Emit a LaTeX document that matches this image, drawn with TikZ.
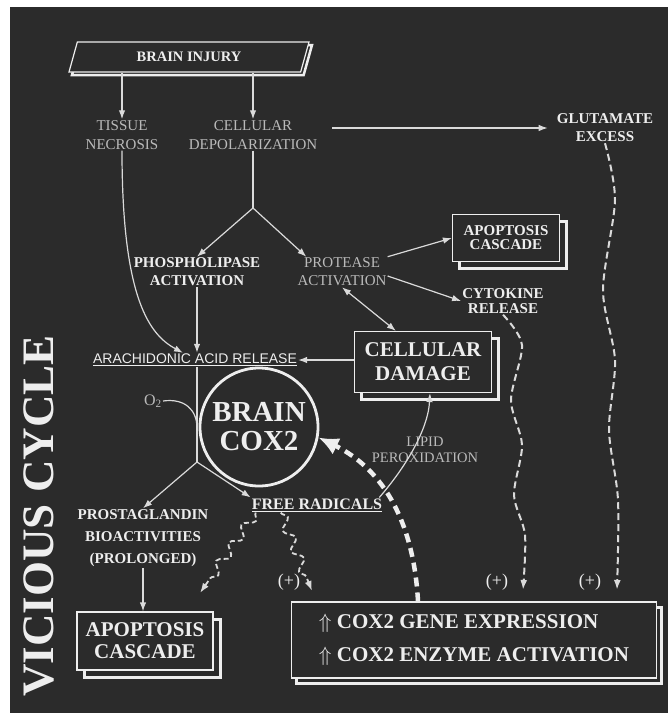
\documentclass[tikz,border=0pt]{standalone}
\usepackage{fontspec}
\setmainfont{Liberation Serif}
\newfontfamily\arialfam{Liberation Sans}
\usetikzlibrary{arrows.meta,shapes.geometric,shadows,decorations.pathmorphing}

\definecolor{bg}{HTML}{2B2B2B}
\definecolor{fg}{HTML}{EEEEEE}
\definecolor{dim}{HTML}{BABABA}
\definecolor{ln}{HTML}{DADADA}

\begin{document}
\begin{tikzpicture}[x=1pt, y=-1pt, >={Latex[length=9pt, width=6.5pt]},
    boldtag/.style={text=fg, font=\bfseries\fontsize{15}{18}\selectfont, align=center, inner sep=1pt},
    greytag/.style={text=dim, font=\fontsize{15}{19}\selectfont, align=center, inner sep=1pt},
    framed/.style={draw=fg, fill=bg, line width=1.2pt, text=fg, align=center, inner sep=0pt,
        general shadow={shadow xshift=#1, shadow yshift=-#1, draw=fg, fill=bg, line width=3pt}},
    framed/.default=7pt,
    link/.style={draw=ln, line width=1.2pt},
    wavy/.style={draw=ln, line width=2pt, dash pattern=on 7pt off 4pt, -{Latex[length=10pt, width=7pt]}},
    squiggle/.style={draw=ln, line width=1.8pt, dash pattern=on 5pt off 3pt, -{Latex[length=10pt, width=7pt]}, decorate,
        decoration={snake, amplitude=5pt, segment length=22pt, post length=9pt}},
    thickdash/.style={draw=fg, line width=4.5pt, dash pattern=on 9pt off 6pt, -{Latex[length=20pt, width=18pt]}}]

    \useasboundingbox (0, 0) rectangle (668, 713);
    \fill[white] (0, 0) rectangle (668, 713);
    \fill[bg] (10, 7) rectangle (668, 713);

    \node at (189, 57) (injury) [trapezium, trapezium left angle=63, trapezium right angle=117, trapezium stretches body,
        minimum width=240pt, minimum height=30pt, draw=fg, fill=bg, line width=1.2pt, text=fg,
        font=\bfseries\fontsize{14.5}{16}\selectfont,
        general shadow={shadow xshift=3pt, shadow yshift=-3pt, draw=fg, fill=bg, line width=2.5pt}] {BRAIN INJURY};
    \node at (122, 135) (tissue) [greytag] {TISSUE\\NECROSIS};
    \node at (253, 135) (depol) [greytag] {CELLULAR\\DEPOLARIZATION};
    \node at (605, 128) (glut) [boldtag] {GLUTAMATE\\EXCESS};
    \node at (197, 272) (phospho) [boldtag] {PHOSPHOLIPASE\\ACTIVATION};
    \node at (342, 272) (protease) [greytag, font=\fontsize{15}{18}\selectfont] {PROTEASE\\ACTIVATION};
    \node at (506, 238) (apopA) [framed, minimum width=107pt, minimum height=47pt, font=\bfseries\fontsize{15}{14}\selectfont] {APOPTOSIS\\CASCADE};
    \node at (503, 301) (cyto) [boldtag, font=\bfseries\fontsize{15}{15}\selectfont] {CYTOKINE\\RELEASE};
    \node at (195, 360) (arach) [text=fg, inner sep=1pt, font=\arialfam\fontsize{14}{16}\selectfont] {\underline{ARACHIDONIC ACID RELEASE}};
    \node at (423, 362) (damage) [framed, minimum width=137pt, minimum height=61pt, font=\bfseries\fontsize{21}{24}\selectfont] {CELLULAR\\DAMAGE};
    \node at (259, 427) (cox) [circle, draw=fg, line width=2.8pt, minimum size=118pt, text=fg, align=center, inner sep=0pt,
        font=\bfseries\fontsize{29}{29}\selectfont] {BRAIN\\COX2};
    \node at (153, 401) (o2) [greytag, font=\fontsize{16}{18}\selectfont] {O\textsubscript{2}};
    \node at (425, 450) (lipid) [greytag, font=\fontsize{14.5}{16}\selectfont] {LIPID\\PEROXIDATION};
    \node at (317, 505) (radicals) [boldtag, font=\bfseries\fontsize{16}{18}\selectfont] {\underline{FREE RADICALS}};
    \node at (143, 538) (prosta) [boldtag, font=\bfseries\fontsize{15}{22}\selectfont] {PROSTAGLANDIN\\BIOACTIVITIES\\(PROLONGED)};
    \node at (145, 641) (apopB) [framed, minimum width=136pt, minimum height=58pt, font=\bfseries\fontsize{21}{22}\selectfont] {APOPTOSIS\\CASCADE};
    \node at (474, 640) (gene) [framed=5pt, minimum width=365pt, minimum height=76pt, align=left,
        font=\bfseries\fontsize{21}{33}\selectfont] {$\Uparrow$\ COX2 GENE EXPRESSION\\$\Uparrow$\ COX2 ENZYME ACTIVATION};
    \node at (289, 582) (plusA) [greytag, text=fg, font=\fontsize{18}{18}\selectfont] {(+)};
    \node at (497, 582) (plusB) [greytag, text=fg, font=\fontsize{18}{18}\selectfont] {(+)};
    \node at (590, 582) (plusC) [greytag, text=fg, font=\fontsize{18}{18}\selectfont] {(+)};
    \node at (39, 516) (vicious) [rotate=90, text=fg, font=\bfseries\fontsize{45}{45}\selectfont] {VICIOUS CYCLE};

    \coordinate (fork) at (253, 208);
    \coordinate (yfork) at (197, 462);
    \coordinate (o2in) at (197, 428);
    \coordinate (cytoin) at (523, 590);
    \coordinate (glutin) at (617, 590);
    \coordinate (apopin) at (200, 593);
    \coordinate (genein) at (312, 591);

    \path[link, ->] (injury.south -| tissue) -- (tissue);
    \path[link, ->] (injury.south -| depol) -- (depol);
    \path[link, ->, shorten <=14pt, shorten >=8pt] (depol.east |- glut) -- (glut.west);
    \path[link] (depol) -- (fork);
    \path[link, ->] (fork) -- (phospho.north);
    \path[link, ->] (fork) -- ([xshift=10pt]protease.north west);
    \path[link, ->] (tissue) .. controls (122, 300) and (150, 335) .. ([xshift=-12pt]arach.north);
    \path[link, ->] (phospho) -- (phospho |- arach.north);
    \path[link, ->] (protease.north east) -- (apopA.west);
    \path[link, ->] ([yshift=-4pt]protease.east) -- (cyto.west);
    \path[link, <->] (protease.south) -- ([xshift=42pt]damage.north west);
    \path[link, ->] (damage.west |- arach) -- (arach);
    \path[link, ->] ([xshift=-4pt]radicals.north east) .. controls (405, 468) and (428, 430) .. ([xshift=7pt]damage.south);

    \path[link] (arach.south -| yfork) -- (yfork);
    \path[link] (o2.east) .. controls (185, 398) and (197, 410) .. (o2in);
    \path[link, ->] (yfork) -- (prosta.north);
    \path[link, ->] (yfork) -- (radicals.north west);
    \path[link, ->] (prosta) -- (prosta |- apopB.north);

    \path[wavy] plot[smooth] coordinates {(cyto.south) (522, 345) (511, 400) (522, 445) (514, 495) (525, 535) (cytoin)};
    \path[wavy] plot[smooth] coordinates {(glut.south) (615, 200) (603, 290) (615, 360) (609, 430) (618, 500) (glutin)};
    \path[squiggle] ([xshift=5pt]radicals.south west) -- (apopin);
    \path[squiggle] ([xshift=30pt]radicals.south west) -- (genein);
    \path[thickdash] ([xshift=-56pt]gene.north) .. controls (414, 525) and (385, 470) .. (cox.-10);

\end{tikzpicture}
\end{document}
